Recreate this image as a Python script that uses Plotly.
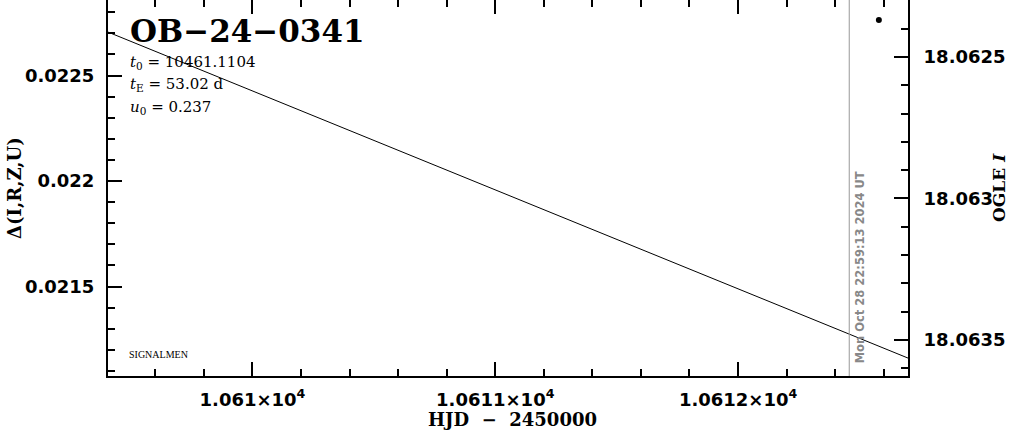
import plotly.graph_objects as go

# Model curve (HJD-2450000, Delta)
hjd_model = [10609.405, 10610.0, 10611.0, 10612.0, 10612.70]
delta_model = [0.022706, 0.022427, 0.021958, 0.021489, 0.021161]

# OGLE data point (HJD-2450000, I mag)
ogle_hjd = [10612.58]
ogle_mag = [18.06237]

# Current time marker
now_hjd = 10612.458
now_label = "Mon Oct 28 22:59:13 2024 UT"

x_tickvals = [10610, 10611, 10612]
x_ticktext = ["1.061×10<sup>4</sup>", "1.0611×10<sup>4</sup>", "1.0612×10<sup>4</sup>"]
y_tickvals = [0.0215, 0.022, 0.0225]
y_ticktext = ["0.0215", "0.022", "0.0225"]
y2_tickvals = [18.0625, 18.063, 18.0635]
y2_ticktext = ["18.0625", "18.063", "18.0635"]

event_name = "OB−24−0341"
params = ["<i>t</i><sub>0</sub> = 10461.1104",
          "<i>t</i><sub>E</sub> = 53.02 d",
          "<i>u</i><sub>0</sub> = 0.237"]

tickfont = dict(family="DejaVu Sans", size=18, color="black", weight="bold")
titlefont = dict(family="DejaVu Serif", size=18, color="black", weight="bold")

fig = go.Figure()
fig.add_trace(go.Scatter(x=hjd_model, y=delta_model, mode="lines",
                         line=dict(color="black", width=1), showlegend=False,
                         hoverinfo="skip"))
fig.add_trace(go.Scatter(x=ogle_hjd, y=ogle_mag, mode="markers", yaxis="y2",
                         marker=dict(color="black", size=6, symbol="circle"),
                         showlegend=False))

fig.add_shape(type="line", xref="x", yref="paper", x0=now_hjd, x1=now_hjd,
              y0=0, y1=1, line=dict(color="#999999", width=1))

axis_common = dict(ticks="inside", ticklen=14, tickwidth=2, tickcolor="black",
                   showline=True, linewidth=2, linecolor="black", automargin=False,
                   showgrid=False, zeroline=False, tickfont=tickfont)

fig.update_layout(
    width=1011, height=434,
    margin=dict(l=108, r=103, t=0, b=58, autoexpand=False),
    paper_bgcolor="white", plot_bgcolor="white",
    xaxis=dict(range=[10609.405, 10612.70], tickvals=x_tickvals, ticktext=x_ticktext,
               mirror="ticks", ticklabelstandoff=6,
               minor=dict(dtick=0.2, tick0=10610, ticks="inside", ticklen=7,
                          tickwidth=2, tickcolor="black"),
               **axis_common),
    yaxis=dict(range=[0.021076, 0.022858], tickvals=y_tickvals, ticktext=y_ticktext,
               ticklabelstandoff=8,
               minor=dict(dtick=0.0001, tick0=0.022, ticks="inside", ticklen=7,
                          tickwidth=2, tickcolor="black"),
               **axis_common),
    yaxis2=dict(range=[18.063627, 18.062299], overlaying="y", side="right",
                tickvals=y2_tickvals, ticktext=y2_ticktext, ticklabelstandoff=10,
                minor=dict(dtick=0.0001, tick0=18.063, ticks="inside", ticklen=7,
                           tickwidth=2, tickcolor="black"),
                **axis_common),
)

annotations = [
    dict(text=event_name, x=0.025, y=0.918, xanchor="left", yanchor="middle",
         font=dict(family="DejaVu Serif", size=31, color="black", weight="bold")),
    dict(text="SIGNALMEN", x=0.024, y=0.056, xanchor="left", yanchor="middle",
         font=dict(family="Liberation Serif", size=10, color="black")),
    dict(text="HJD  −  2450000", x=0.505, y=-0.117, xanchor="center", yanchor="middle",
         font=titlefont),
    dict(text="Δ(I,R,Z,U)", x=-0.1175, y=0.5, xanchor="center", yanchor="middle",
         textangle=-90, font=titlefont),
    dict(text="OGLE <i>I</i>", x=1.11375, y=0.5, xanchor="center", yanchor="middle",
         textangle=-90, font=dict(family="DejaVu Serif", size=17, color="black",
                                  weight="bold")),
]
for i, (p, yy) in enumerate(zip(params, [0.835, 0.774, 0.715])):
    annotations.append(dict(text=p, x=0.025, y=yy, xanchor="left", yanchor="middle",
                            font=dict(family="DejaVu Serif", size=15, color="black")))
for a in annotations:
    a.update(xref="paper", yref="paper", showarrow=False)

annotations.append(dict(text=now_label, x=now_hjd, xref="x", y=0.029, yref="paper",
                        xanchor="left", yanchor="bottom", xshift=2, textangle=-90,
                        showarrow=False,
                        font=dict(family="DejaVu Sans", size=11.5, color="#888888",
                                  weight="bold")))
fig.update_layout(annotations=annotations)

fig.write_html("out.html", config={"displayModeBar": False},
               post_script="document.body.style.margin='0px';document.body.style.overflow='hidden';")
